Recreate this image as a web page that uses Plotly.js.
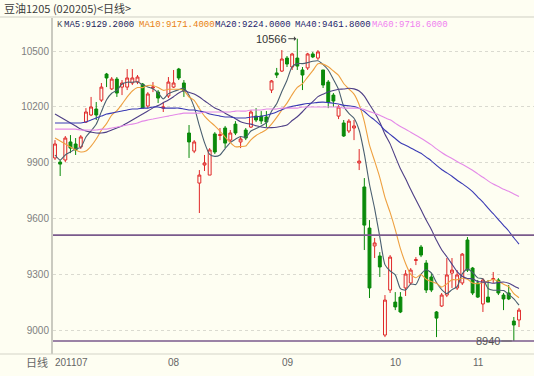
<!DOCTYPE html>
<html>
<head>
<meta charset="utf-8">
<script src="https://cdn.plot.ly/plotly-3.0.1.min.js"></script>
<style>html,body{margin:0;padding:0;background:#fefef2;}#chart{width:534px;height:376px;}</style>
</head>
<body>
<div id="chart"></div>
<script>
// ---- data (daily K-line, 豆油1205) ----
const opens  = [9925,9903,9914,10011,10000,9984,10118,10156,10188,10236,
                10376,10296,10349,10306,10306,10328,10333,10322,10204,10301,
                10279,10193,10258,10306,10403,10328,10059,9962,9790,9887,
                9833,10054,10046,10086,10021,10107,10011,10075,10091,10150,
                10150,10145,10290,10382,10392,10462,10414,10462,10398,10409,
                10484,10462,10398,10333,10263,10150,10113,10070,10086,9898,
                9769,9548,9452,9398,8973,9215,9150,9177,9226,9253,
                9374,9446,9360,9285,9097,9129,9188,9306,9226,9253,
                9484,9333,9253,9140,9177,9272,9269,9188,9199,9048,9054];
const highs  = [10021,9914,10043,10048,10032,10048,10193,10253,10226,10328,
                10382,10360,10360,10344,10403,10403,10371,10328,10279,10333,
                10290,10226,10360,10398,10409,10344,10102,10021,9860,9941,
                9978,10064,10086,10097,10075,10123,10038,10086,10183,10193,
                10177,10177,10344,10409,10505,10473,10490,10566,10414,10490,
                10495,10505,10398,10344,10274,10209,10129,10134,10129,9973,
                9817,9591,9495,9419,9188,9403,9204,9204,9322,9333,
                9392,9457,9376,9306,9102,9199,9387,9387,9322,9414,
                9500,9339,9269,9279,9269,9312,9279,9199,9242,9070,9118];
const lows   = [9914,9828,9903,9951,9941,9973,10113,10150,10129,10226,
                10306,10290,10253,10263,10290,10317,10322,10193,10193,10279,
                10220,10172,10247,10301,10344,10253,9925,9951,9629,9855,
                9833,9946,10021,9978,10011,10048,9978,10021,10086,10118,
                10107,10091,10274,10355,10387,10414,10398,10398,10290,10398,
                10462,10452,10301,10193,10199,10134,10038,10059,10021,9860,
                9430,9172,9387,9285,8962,9199,9107,9091,9183,9242,
                9349,9392,9199,9204,8962,9124,9177,9226,9215,9242,
                9312,9188,9172,9097,9150,9253,9188,9107,9161,8941,9016];
const closes = [10000,9892,10032,9978,9968,10038,10172,10199,10156,10306,
                10355,10349,10274,10328,10355,10355,10360,10193,10269,10306,
                10247,10199,10333,10328,10355,10285,10011,10011,9833,9898,
                9968,9957,10050,10005,10059,10059,10027,10032,10172,10129,
                10124,10118,10339,10371,10457,10430,10484,10419,10371,10484,
                10468,10495,10317,10226,10231,10199,10043,10123,10097,9908,
                9564,9226,9468,9339,9161,9392,9124,9097,9301,9322,
                9378,9403,9215,9215,9064,9188,9296,9322,9296,9408,
                9322,9199,9177,9269,9150,9276,9199,9167,9167,9027,9107];

// moving-average values visible before each window is full
const ma5Early  = [9941,9914,9941,9957];
const ma10Early = [10032,10016,10000,9984,9968,9957,9962,9989,10027];
const ma20Early = [10161,10145,10129,10113,10097,10080,10070,10064,10059,10059,
                   10064,10075,10086,10097,10113,10129,10145,10161,10177];
const ma40Early = [10113,10113,10113,10113,10113,10113,10118,10129,10140,10150,
                   10161,10166,10172,10177,10183,10188,10188,10193,10193,10199,
                   10199,10193,10193,10193,10193,10188,10183,10183,10177,10172,
                   10161,10156,10150,10145,10145,10140,10140,10140,10145];
const ma60Early = [10080,10080,10080,10080,10080,10075,10075,10075,10075,10080,
                   10080,10086,10091,10097,10102,10107,10113,10123,10129,10134,
                   10140,10145,10150,10156,10161,10166,10166,10166,10166,10172,
                   10172,10172,10172,10172,10172,10177,10177,10177,10183,10183,
                   10183,10188,10188,10188,10193,10193,10193,10193,10199,10199,
                   10199,10199,10199,10199,10199,10199,10193,10193,10193];

const maNames   = ['MA5','MA10','MA20','MA40','MA60'];
const maPeriods = [5,10,20,40,60];
const maLast    = ['9129.2000','9171.4000','9224.0000','9461.8000','9718.6000'];
const monthStart = [0,22,44,65,81];
const monthLabels = ['201107','08','09','10','11'];
const yTicks = [9000,9300,9600,9900,10200,10500];
const hLevels = [9510,8941];
const peakIdx = 47, peakVal = 10566;
const lowIdx = 89, lowVal = 8941;

// ---- build ----
const xIdx = closes.map((_, i) => i);
function movingAvg(n, early) {
  return closes.map((c, i) => {
    if (i < n - 1) return early[i];
    let s = 0;
    for (let k = i - n + 1; k <= i; k++) s += closes[k];
    return s / n;
  });
}
const earlies = [ma5Early, ma10Early, ma20Early, ma40Early, ma60Early];
const lineColors = ['#4a5f70','#eea040','#4e3f86','#3a3ab4','#e48ae8'];
const textColors = ['#1c1c5c','#e88010','#1c1c6c','#1c1c6c','#f080f0'];

const traces = [{
  type: 'candlestick', x: xIdx, open: opens, high: highs, low: lows, close: closes,
  increasing: {line: {color: '#e02828', width: 1}, fillcolor: '#fefef2'},
  decreasing: {line: {color: '#0a8a0a', width: 1}, fillcolor: '#0a8a0a'},
  whiskerwidth: 0, showlegend: false, hoverinfo: 'skip'
}];
maPeriods.forEach((p, i) => {
  traces.push({type: 'scatter', mode: 'lines', x: xIdx, y: movingAvg(p, earlies[i]),
    line: {color: lineColors[i], width: 1.1, shape: 'spline', smoothing: 0.6},
    showlegend: false, hoverinfo: 'skip'});
});

const plotL = 53, plotR = 534, plotT = 18, plotB = 354;
const pw = plotR - plotL, ph = plotB - plotT;
const px2paperX = px => (px - plotL) / pw;
const px2paperY = py => (plotB - py) / ph;

const annotations = [];
annotations.push({xref: 'paper', yref: 'paper', x: px2paperX(2), y: px2paperY(8), xanchor: 'left', yanchor: 'middle',
  text: '豆油1205 (020205)<日线>', showarrow: false,
  font: {family: 'Noto Sans CJK SC, sans-serif', size: 11, color: '#3a3a3a'}});
annotations.push({xref: 'paper', yref: 'paper', x: px2paperX(55), y: px2paperY(25), xanchor: 'left', yanchor: 'middle',
  text: 'K', showarrow: false, font: {family: 'Liberation Mono, monospace', size: 9, color: '#555'}});
const legX = [62, 137, 213, 293, 370];
maNames.forEach((n, i) => {
  annotations.push({xref: 'paper', yref: 'paper', x: px2paperX(legX[i]), y: px2paperY(25), xanchor: 'left', yanchor: 'middle',
    text: n + ':' + maLast[i], showarrow: false,
    font: {family: 'Liberation Mono, monospace', size: 9, color: textColors[i]}});
});
monthLabels.forEach((t, i) => {
  annotations.push({xref: 'x', yref: 'paper', x: monthStart[i], xshift: -2, y: px2paperY(362), xanchor: 'left', yanchor: 'middle',
    text: t, showarrow: false, font: {family: 'Liberation Sans, Arial, sans-serif', size: 10, color: '#666'}});
});
annotations.push({xref: 'paper', yref: 'paper', x: px2paperX(50), y: px2paperY(362), xanchor: 'right', yanchor: 'middle',
  text: '日线', showarrow: false, font: {family: 'Noto Sans CJK SC, sans-serif', size: 11, color: '#666'}});
annotations.push({xref: 'x', yref: 'y', x: peakIdx, y: peakVal, text: String(peakVal), showarrow: true,
  ax: -26, ay: 0, arrowhead: 1, arrowsize: 0.8, arrowwidth: 1, arrowcolor: '#444', standoff: 1,
  font: {family: 'Liberation Sans, Arial, sans-serif', size: 11, color: '#333'}});
annotations.push({xref: 'x', yref: 'y', x: lowIdx, y: lowVal, text: '8940', showarrow: true,
  ax: -26, ay: 0, arrowhead: 0, arrowwidth: 1, arrowcolor: '#666', standoff: 2,
  font: {family: 'Liberation Sans, Arial, sans-serif', size: 11, color: '#555'}});

const shapes = hLevels.map(v => ({type: 'line', xref: 'paper', yref: 'y', x0: 0, x1: 1, y0: v, y1: v,
  line: {color: '#7a5a8c', width: 1.6}}));
shapes.push({type: 'line', xref: 'paper', yref: 'paper', x0: px2paperX(0), x1: 1, y0: px2paperY(17), y1: px2paperY(17),
  line: {color: '#cfcfc4', width: 1}});
shapes.push({type: 'line', xref: 'paper', yref: 'paper', x0: px2paperX(0), x1: 1, y0: 0, y1: 0,
  line: {color: '#d4d4c8', width: 1}});

const pxPerIdx = 464 / 90;
const layout = {
  width: 534, height: 376,
  margin: {l: plotL, r: 0, t: plotT, b: 376 - plotB, pad: 0},
  paper_bgcolor: '#fefef2', plot_bgcolor: '#fefef2',
  boxgap: 0.2,
  showlegend: false,
  xaxis: {range: [-2 / pxPerIdx, 90 + 15 / pxPerIdx], showgrid: false, zeroline: false, showticklabels: false,
          ticks: '', showline: false, rangeslider: {visible: false}, fixedrange: true},
  yaxis: {range: [10500 - (plotB - 51) * 5.376, 10500 + (51 - plotT) * 5.376],
          tickvals: yTicks, ticktext: yTicks.map(String), showgrid: true, gridcolor: '#dadad0', griddash: 'dot',
          zeroline: false, showline: true, linecolor: '#cacac0', linewidth: 2, ticks: '',
          tickfont: {family: 'Liberation Sans, Arial, sans-serif', size: 10, color: '#808080'}, fixedrange: true},
  annotations: annotations,
  shapes: shapes
};
Plotly.newPlot('chart', traces, layout, {displayModeBar: false, staticPlot: true});
</script>
</body>
</html>
